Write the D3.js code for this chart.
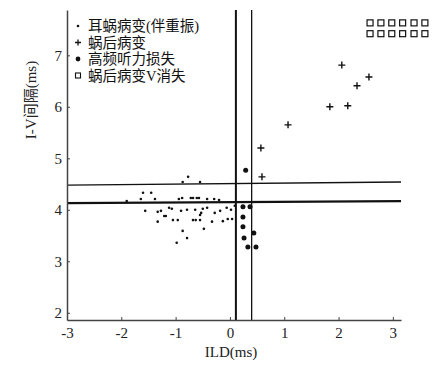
<!DOCTYPE html>
<html>
<head>
<meta charset="utf-8">
<script src="https://cdn.jsdelivr.net/npm/d3@7"></script>
<style>
  body { margin: 0; background: #fff; }
  svg text { font-family: "Liberation Serif", "Times New Roman", "Noto Sans CJK SC", serif; }
</style>
</head>
<body>
<div id="chart"></div>
<script>
// ---- data (ILD ms, I-V interval ms) ----
const xTicks = [-3, -2, -1, 0, 1, 2, 3];
const yTicks = [2, 3, 4, 5, 6, 7];

// 耳蜗病变(伴重振)
const cochlear = [
  [-0.87, 4.54], [-0.77, 4.64], [-0.55, 4.54],
  [-1.60, 4.33], [-1.45, 4.33], [-1.90, 4.17], [-1.64, 4.21], [-1.38, 4.21],
  [-0.94, 4.21], [-0.88, 4.23], [-0.72, 4.23], [-0.68, 4.23], [-0.61, 4.23],
  [-0.57, 4.23], [-0.42, 4.21], [-0.29, 4.21], [-0.20, 4.19],
  [-1.56, 3.98], [-1.33, 3.96], [-1.27, 3.98], [-1.21, 3.88], [-1.18, 3.88],
  [-1.12, 4.04], [-1.07, 4.02], [-0.90, 3.98], [-0.79, 4.00], [-0.64, 4.00],
  [-0.50, 4.02], [-0.42, 4.04], [-0.28, 3.94], [-0.18, 3.98], [-0.06, 4.04],
  [0.02, 4.00], [0.09, 4.08],
  [-1.33, 3.77], [-1.05, 3.80], [-0.96, 3.80], [-0.68, 3.80], [-0.63, 3.80],
  [-0.55, 3.80], [-0.55, 3.90], [-0.53, 3.94], [-0.33, 3.77], [-0.13, 3.78],
  [-0.04, 3.82], [0.04, 3.82],
  [-0.87, 3.59], [-0.48, 3.63], [-0.79, 3.45], [-0.98, 3.36]
];

// 蜗后病变
const retro = [
  [2.06, 6.81], [2.56, 6.58], [2.34, 6.41], [1.84, 6.00], [2.17, 6.02],
  [1.07, 5.65], [0.57, 5.20], [0.59, 4.64]
];

// 高频听力损失
const highFreq = [
  [0.29, 4.77], [0.24, 4.06], [0.37, 4.06], [0.24, 3.86], [0.24, 3.67],
  [0.44, 3.55], [0.26, 3.45], [0.33, 3.28], [0.48, 3.28]
];

// 蜗后病变V消失 (plotted off-scale at the top right)
const waveVLostX = [2.58, 2.78, 2.98, 3.18, 3.39, 3.59];
const waveVLostY = [7.63, 7.42];

// reference (cut-off) lines
const vLines = [{x: 0.11, w: 2}, {x: 0.40, w: 1.3}];
const hLines = [{y1: 4.48, y2: 4.54, w: 1.3}, {y1: 4.13, y2: 4.17, w: 2.2}];

const legendItems = ["耳蜗病变(伴重振)", "蜗后病变", "高频听力损失", "蜗后病变V消失"];

// ---- chart ----
const W = 441, H = 378;
const FONT = "'Liberation Serif', 'Times New Roman', 'Noto Sans CJK SC', serif";
const svg = d3.select("#chart").append("svg")
    .attr("width", W).attr("height", H)
    .attr("font-family", FONT);

const x = d3.scaleLinear().domain([-3, 3.15]).range([67, 401]);
const y = d3.scaleLinear().domain([1.86, 7.88]).range([320, 10]);

// reference lines
svg.append("g").selectAll("line").data(vLines).join("line")
    .attr("x1", d => x(d.x)).attr("x2", d => x(d.x))
    .attr("y1", y(1.86)).attr("y2", y(7.88))
    .attr("stroke", "#111").attr("stroke-width", d => d.w);

svg.append("g").selectAll("line").data(hLines).join("line")
    .attr("x1", x(-3)).attr("x2", x(3.15))
    .attr("y1", d => y(d.y1)).attr("y2", d => y(d.y2))
    .attr("stroke", "#111").attr("stroke-width", d => d.w);

// axes
const fmt = d => String(d);
const xAxis = svg.append("g")
    .attr("transform", `translate(0,${y(1.86)})`)
    .call(d3.axisBottom(x).tickValues(xTicks).tickFormat(fmt)
        .tickSize(-3).tickSizeOuter(0).tickPadding(7));
const yAxis = svg.append("g")
    .attr("transform", `translate(${x(-3)},0)`)
    .call(d3.axisLeft(y).tickValues(yTicks).tickFormat(fmt)
        .tickSize(-3).tickSizeOuter(0).tickPadding(5));

[xAxis, yAxis].forEach(a => {
  a.attr("font-family", FONT).attr("font-size", 15);
  a.select(".domain").attr("stroke", "#444").attr("stroke-width", 1.5);
  a.selectAll(".tick line").attr("stroke", "#444");
  a.selectAll(".tick text").attr("fill", "#222");
});

// axis titles
svg.append("text")
    .attr("x", 231).attr("y", 357)
    .attr("text-anchor", "middle")
    .attr("font-size", 15).attr("fill", "#222")
    .text("ILD(ms)");

svg.append("text")
    .attr("transform", "translate(36,100) rotate(-90)")
    .attr("text-anchor", "middle")
    .attr("font-size", 15).attr("fill", "#222")
    .text("I-V间隔(ms)");

// points
svg.append("g").selectAll("circle").data(cochlear).join("circle")
    .attr("cx", d => x(d[0])).attr("cy", d => y(d[1]))
    .attr("r", 1.3).attr("fill", "#111");

svg.append("g").selectAll("circle").data(highFreq).join("circle")
    .attr("cx", d => x(d[0])).attr("cy", d => y(d[1]))
    .attr("r", 2.5).attr("fill", "#111");

svg.append("g").selectAll("path").data(retro).join("path")
    .attr("transform", d => `translate(${x(d[0])},${y(d[1])})`)
    .attr("d", "M-3.5,0H3.5M0,-3.5V3.5")
    .attr("stroke", "#111").attr("stroke-width", 1.4).attr("fill", "none");

const squares = waveVLostY.flatMap(v => waveVLostX.map(u => [u, v]));
svg.append("g").selectAll("rect").data(squares).join("rect")
    .attr("x", d => x(d[0]) - 3).attr("y", d => y(d[1]) - 3)
    .attr("width", 6).attr("height", 6)
    .attr("fill", "none").attr("stroke", "#111").attr("stroke-width", 1.2);

// legend
const legend = svg.append("g").attr("transform", "translate(78,26)");
const rows = legend.selectAll("g").data(legendItems).join("g")
    .attr("transform", (d, i) => `translate(0,${i * 16.5})`);

rows.append("text")
    .attr("x", 10).attr("y", 5)
    .attr("font-size", 14.5).attr("fill", "#111")
    .text(d => d);

rows.filter((d, i) => i === 0).append("circle").attr("r", 1.3).attr("fill", "#111");
rows.filter((d, i) => i === 1).append("path")
    .attr("d", "M-3,0H3M0,-3V3").attr("stroke", "#111").attr("stroke-width", 1.3);
rows.filter((d, i) => i === 2).append("circle").attr("r", 2.4).attr("fill", "#111");
rows.filter((d, i) => i === 3).append("rect")
    .attr("x", -2.5).attr("y", -2.5).attr("width", 5).attr("height", 5)
    .attr("fill", "none").attr("stroke", "#111").attr("stroke-width", 1.1);
</script>
</body>
</html>
